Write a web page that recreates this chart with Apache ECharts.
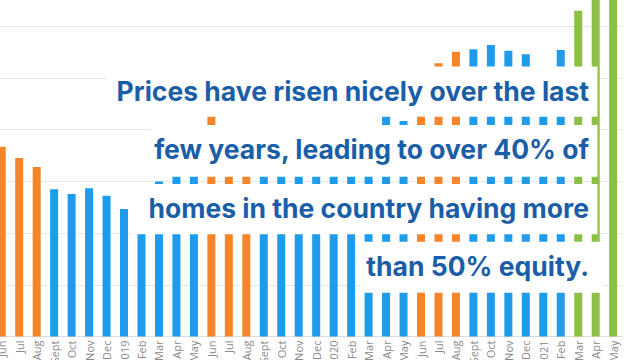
<!DOCTYPE html>
<html>
<head>
<meta charset="utf-8">
<script src="https://cdn.jsdelivr.net/npm/echarts@6/dist/echarts.min.js"></script>
<style>
html,body{margin:0;padding:0;background:#fff;}
#chart{width:640px;height:360px;}
</style>
</head>
<body>
<div id="chart"></div>
<script>
// Categories (months, Jun 2018 .. May 2021)
var categories = ['Jun','Jul','Aug','Sept','Oct','Nov','Dec','2019','Feb','Mar','Apr','May',
  'Jun','Jul','Aug','Sept','Oct','Nov','Dec','2020','Feb','Mar','Apr','May',
  'Jun','Jul','Aug','Sept','Oct','Nov','Dec','2021','Feb','Mar','Apr','May'];
// Values (estimated where covered)
var values = [183.4,172.5,163.8,142.2,137.7,143.2,136.0,123.2,127.1,149.8,170.5,189.9,
  216.9,199.5,191.8,178.3,173.4,175.4,184.1,162.8,170.5,194.7,223.7,208.2,
  243.0,264.0,275.2,277.5,281.6,276.1,272.7,252.7,276.8,314.8,354.1,373.4];
// Season group of each bar: 'summer', 'other', 'spring21'
var groups = ['summer','summer','summer','other','other','other','other','other','other','other','other','other',
  'summer','summer','summer','other','other','other','other','other','other','other','other','other',
  'summer','summer','summer','other','other','other','other','other','other','spring21','spring21','spring21'];
var yTicks = [0, 300, 50];
var textLines = ['Prices have risen nicely over the last','few years, leading to over 40% of','homes in the country having more','than 50% equity.'];

var colorMap = {summer:'#f5852b', other:'#1e9bea', spring21:'#8cbf45'};
var FONT_FAMILY = 'Inter, "Open Sans", sans-serif';

// fit font size to the widths of the lines in the picture
var targetW = [469, 430, 449, 222];
var cv = document.createElement('canvas').getContext('2d');
cv.font = 'bold 100px ' + FONT_FAMILY;
var sum = 0;
for (var i = 0; i < textLines.length; i++) sum += targetW[i] / cv.measureText(textLines[i]).width * 100;
var fontSize = Math.round(sum / textLines.length * 10) / 10;

var boxes = [
  {l:106, r:597.5, t:66.5, b:116.7, ty:91},
  {l:151.7, r:597.5, t:125, b:176.7, ty:148.5},
  {l:132, r:597.5, t:184, b:234.3, ty:207.5},
  {l:360, r:603, t:241.7, b:292.7, ty:265.5}
];
var graphics = [];
boxes.forEach(function(bx, k){
  graphics.push({type:'rect', z:100, shape:{x:bx.l, y:bx.t, width:bx.r-bx.l, height:bx.b-bx.t}, style:{fill:'#ffffff'}});
  graphics.push({type:'text', z:101, x:589, y:bx.ty, style:{text:textLines[k], fill:'#1b5ea8',
    font:'bold ' + fontSize + 'px ' + FONT_FAMILY, textAlign:'right', textVerticalAlign:'middle'}});
});

var chart = echarts.init(document.getElementById('chart'), null, {renderer:'svg'});
chart.setOption({
  animation:false,
  grid:{left:-7, right:18.1, top:26, bottom:23.5, containLabel:false, outerBoundsMode:'none'},
  xAxis:{type:'category', data:categories,
    axisLine:{lineStyle:{color:'#dddddd'}}, axisTick:{show:false},
    axisLabel:{interval:0, rotate:90, color:'#8a8a8a', fontSize:11, margin:4, fontFamily:'"Open Sans", sans-serif'}},
  yAxis:{type:'value', min:yTicks[0], max:yTicks[1], interval:yTicks[2],
    axisLabel:{show:false}, axisLine:{show:false}, axisTick:{show:false},
    splitLine:{lineStyle:{color:'#e8e8e8'}}},
  series:[{type:'bar', barWidth:8, clip:false,
    data: values.map(function(v, i){ return {value:v, itemStyle:{color:colorMap[groups[i]]}}; })}],
  graphic:{elements:graphics}
});
</script>
</body>
</html>
